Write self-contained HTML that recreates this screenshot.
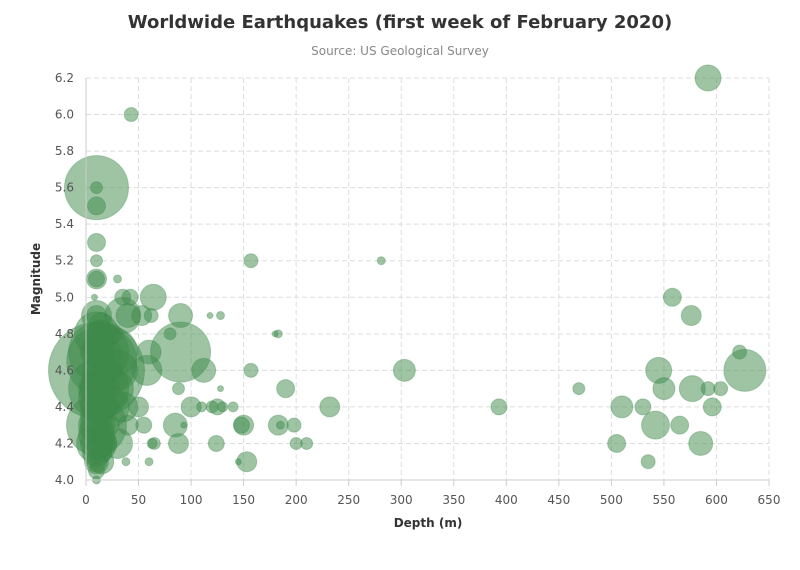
<!DOCTYPE html>
<html><head><meta charset="utf-8">
<style>
html,body{margin:0;padding:0;background:#fff;}
svg{display:block;font-family:"DejaVu Sans","Liberation Sans",sans-serif;}
</style></head>
<body>
<svg id="chart" width="800" height="570" xmlns="http://www.w3.org/2000/svg">
<text x="400" y="28" text-anchor="middle" font-size="18" font-weight="bold" fill="#333">Worldwide Earthquakes (first week of February 2020)</text>
<text x="400" y="55" text-anchor="middle" font-size="12" fill="#888">Source: US Geological Survey</text>
<text x="428" y="527" text-anchor="middle" font-size="12" font-weight="bold" fill="#333">Depth (m)</text>
<text transform="translate(40,279) rotate(-90)" text-anchor="middle" font-size="12" font-weight="bold" fill="#333">Magnitude</text>
<g id="grid"></g><g id="bubbles"></g><g id="axes"></g>
</svg>
<script>
const xTicks=[0,50,100,150,200,250,300,350,400,450,500,550,600,650];
const yTicks=[4.0,4.2,4.4,4.6,4.8,5.0,5.2,5.4,5.6,5.8,6.0,6.2];
const depths=[10,10,10,10,10,10,10,8,43,157,281,592,10,15,12,10,12,10,10,10,15,10,20,30,35,40,35,42,64,53,62,30,25,28,35,30,40,50,55,58,60,80,90,90,112,88,100,110,120,125,130,140,85,93,88,65,63,124,60,38,128,118,128,157,180,183,190,183,185,198,200,210,150,148,153,145,232,303,393,469,510,505,530,535,545,550,542,565,558,576,577,585,592,596,604,622,627,
10,10,10,10,10,10,10,10,10,12,12,12,12,14,14,14,8,8,8,18,18,18,20,20,22,22,25,25,10,10,10,15];
const magnitudes=[5.6,5.6,5.5,5.3,5.2,5.1,5.1,5.0,6.0,5.2,5.2,6.2,4.6,4.65,4.5,4.3,4.7,4.8,4.9,4.2,4.1,4.0,4.4,4.6,4.9,4.9,5.0,5.0,5.0,4.9,4.9,5.1,4.7,4.5,4.4,4.2,4.3,4.4,4.3,4.6,4.7,4.8,4.7,4.9,4.6,4.5,4.4,4.4,4.4,4.4,4.4,4.4,4.3,4.3,4.2,4.2,4.2,4.2,4.1,4.1,4.5,4.9,4.9,4.6,4.8,4.8,4.5,4.3,4.3,4.3,4.2,4.2,4.3,4.3,4.1,4.1,4.4,4.6,4.4,4.5,4.4,4.2,4.4,4.1,4.6,4.5,4.3,4.3,5.0,4.9,4.5,4.2,4.5,4.4,4.5,4.7,4.6,
4.1,4.15,4.2,4.25,4.3,4.35,4.4,4.45,4.5,4.55,4.6,4.7,4.75,4.8,4.85,4.2,4.3,4.5,4.7,4.2,4.4,4.6,4.3,4.5,4.7,4.4,4.6,4.8,4.05,4.1,4.9,4.15];
const sizes=[32,6,9,9,6,10,8,3,7,7,4,13,48,35,30,30,30,22,15,20,12,4,22,20,18,12,8,8,13,10,7,4,25,18,15,15,10,10,8,15,12,6,30,12,12,6,10,5,6,8,5,5,12,3,10,6,5,8,4,4,3,3,4,7,3,4,9,10,4,7,6,6,10,8,10,3,10,11,8,6,11,9,8,7,13,11,14,9,9,10,13,12,7,9,7,7,21,
12,14,16,18,18,16,16,18,18,16,16,16,14,14,12,14,14,14,14,12,12,12,12,12,12,10,10,10,8,10,10,10];
const NS="http://www.w3.org/2000/svg";
const X0=86,X1=769,Y0=480,Y1=78;
const xS=v=>X0+(v-0)/(650-0)*(X1-X0);
const yS=v=>Y0-(v-4.0)/(6.2-4.0)*(Y0-Y1);
const rS=z=>z;
function mk(tag,attrs,parent){const e=document.createElementNS(NS,tag);for(const k in attrs)e.setAttribute(k,attrs[k]);parent.appendChild(e);return e;}
const grid=document.getElementById('grid'),axes=document.getElementById('axes'),bub=document.getElementById('bubbles');
xTicks.forEach(t=>{
  if(t>0){const l=mk('line',{x1:xS(t),x2:xS(t),y1:Y1,y2:Y0,stroke:'#ddd','stroke-dasharray':'5,3'},grid);
  
  }
  const tk=mk('line',{x1:xS(t),x2:xS(t),y1:Y0,y2:Y0+6,stroke:'#ccc'},axes);
  
  
  const tx=mk('text',{x:xS(t),y:Y0+24,'text-anchor':'middle','font-size':12,fill:'#555'},axes);
  tx.textContent=t;
  
  
});
yTicks.forEach(t=>{
  if(t>4.0){const l=mk('line',{x1:X0,x2:X1,y1:yS(t),y2:yS(t),stroke:'#ddd','stroke-dasharray':'5,3'},grid);
  
  }
  const tx=mk('text',{x:X0-12,y:yS(t)+4,'text-anchor':'end','font-size':12,fill:'#555'},axes);
  tx.textContent=t.toFixed(1);
  
  
});
const xa=mk('line',{x1:X0,x2:X1,y1:Y0,y2:Y0,stroke:'#ccc'},axes);


const ya=mk('line',{x1:X0,x2:X0,y1:Y1,y2:Y0,stroke:'#ccc'},axes);


depths.forEach((d,i)=>{
  const c=mk('circle',{cx:xS(d),cy:yS(magnitudes[i]),r:rS(sizes[i]),fill:'rgba(61,138,74,0.5)',stroke:'rgba(61,138,74,0.35)','stroke-width':1},bub);
  
  
});
</script>
</body></html>
